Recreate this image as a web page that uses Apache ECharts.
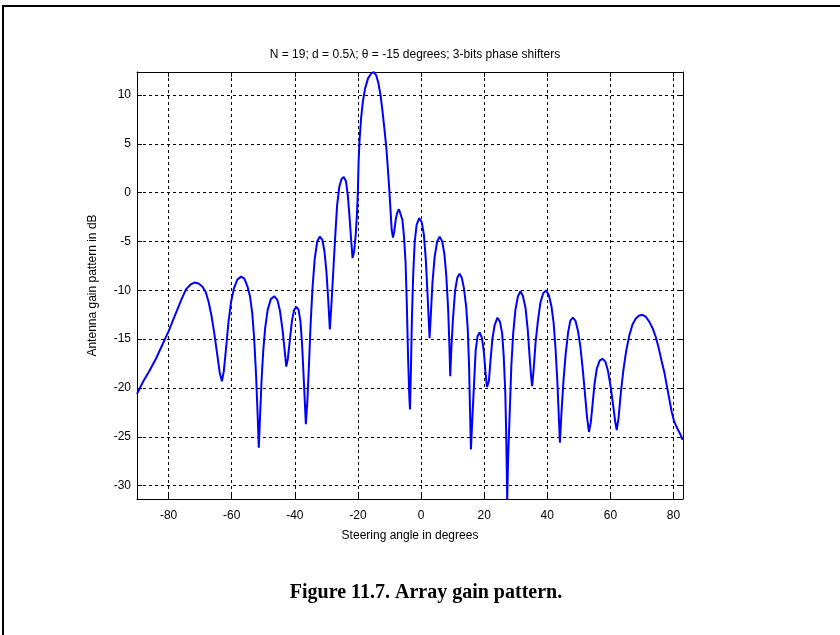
<!DOCTYPE html>
<html>
<head>
<meta charset="utf-8">
<script src="https://cdn.jsdelivr.net/npm/echarts@6/dist/echarts.min.js"></script>
<style>
html,body{margin:0;padding:0;background:#fff;}
#chart{width:840px;height:635px;}
</style>
</head>
<body>
<div id="chart"></div>
<script>
// Steering angle (degrees)
const angles = [
 -90,-88,-86,-84,-82,-80,-78,-76,-74.5,-73,
 -71.8,-70.5,-69.3,-68.2,-67.3,-66.4,-65.5,-64.6,-63.8,-63.1,
 -62.5,-61.8,-61.0,-60.2,-59.3,-58.2,-57.0,-56.0,-55.0,-54.2,
 -53.5,-52.9,-52.3,-51.8,-51.4,-51.0,-50.5,-50.0,-49.4,-48.6,
 -47.6,-46.5,-45.5,-44.7,-43.9,-43.2,-42.7,-42.2,-41.6,-40.9,
 -40.2,-39.5,-38.8,-38.2,-37.7,-37.1,-36.5,-36.0,-35.5,-35.0,
 -34.4,-33.7,-32.9,-32.1,-31.3,-30.6,-30.0,-29.4,-28.9,-28.4,
 -27.8,-27.2,-26.6,-25.9,-25.2,-24.5,-23.8,-23.2,-22.7,-22.2,
 -21.7,-21.2,-20.7,-20.3,-20.0,-19.8,-19.5,-19.0,-18.4,-17.7,
 -16.8,-15.8,-15.0,-14.2,-13.5,-12.8,-12.2,-11.6,-11.0,-10.5,
 -10.0,-9.6,-9.3,-8.9,-8.5,-8.0,-7.5,-7.0,-6.4,-5.9,
 -5.4,-4.9,-4.5,-4.1,-3.7,-3.5,-3.2,-2.9,-2.5,-2.0,
 -1.4,-0.6,0.2,0.9,1.5,2.0,2.4,2.7,3.1,3.6,
 4.3,5.1,5.9,6.7,7.4,8.0,8.6,9.0,9.25,9.6,
 10.1,10.8,11.5,12.2,12.9,13.6,14.3,14.8,15.2,15.5,
 15.8,16.2,16.8,17.3,17.9,18.6,19.3,19.9,20.4,20.9,
 21.5,22.0,22.6,23.3,24.2,25.0,25.7,26.2,26.7,27.0,
 27.3,27.6,28.1,28.6,29.2,29.9,30.7,31.5,32.3,33.1,
 33.8,34.4,34.9,35.2,35.7,36.3,37.0,37.8,38.7,39.6,
 40.5,41.3,42.0,42.6,43.2,43.6,44.0,44.5,45.1,45.8,
 46.6,47.3,48.1,48.9,49.7,50.5,51.3,52.0,52.6,53.2,
 53.8,54.4,55.0,55.7,56.6,57.5,58.4,59.2,60.0,60.8,
 61.5,62.0,62.6,63.3,64.1,65.0,66.0,67.0,68.0,69.0,
 70.1,71.2,72.3,73.4,74.4,75.3,76.2,77.1,77.9,78.7,
 79.4,80.1,80.7,81.3,82.1,82.9
];
// Antenna gain pattern (dB)
const gains = [
 -20.6,-19.3,-18.2,-17.0,-15.6,-14.2,-12.6,-11.0,-9.9,-9.4,
 -9.2,-9.3,-9.6,-10.2,-11.2,-12.6,-14.4,-16.5,-18.4,-19.3,
 -18.3,-16.0,-13.2,-11.2,-9.8,-8.9,-8.6,-8.8,-9.6,-10.6,
 -12.3,-14.8,-18.5,-22.5,-26.1,-22.8,-19.0,-16.2,-13.9,-12.0,
 -10.9,-10.6,-11.0,-12.1,-14.0,-16.2,-17.8,-17.0,-15.2,-13.1,
 -12.0,-11.7,-12.0,-13.2,-15.5,-19.5,-23.7,-21.2,-17.5,-13.5,
 -9.8,-6.8,-5.0,-4.5,-4.8,-6.0,-8.0,-11.0,-14.0,-11.5,
 -8.0,-4.5,-1.3,0.6,1.4,1.6,1.2,-0.3,-2.3,-4.6,
 -6.7,-6.0,-4.3,-2.2,0.3,3.0,5.3,7.6,9.4,10.7,
 11.7,12.2,12.35,12.0,11.2,9.9,8.3,6.5,4.6,2.4,
 0.0,-2.2,-3.8,-4.6,-4.0,-2.7,-2.0,-1.7,-1.9,-2.8,
 -4.5,-7.2,-11.5,-17.0,-21.0,-22.2,-18.0,-13.0,-8.5,-5.0,
 -3.3,-2.6,-3.0,-4.3,-6.8,-10.0,-12.8,-14.9,-12.5,-9.3,
 -6.6,-5.0,-4.5,-5.0,-6.3,-8.5,-12.0,-15.8,-18.8,-16.0,
 -13.0,-10.0,-8.7,-8.3,-8.7,-9.8,-11.7,-14.0,-17.5,-22.0,
 -26.3,-23.5,-19.5,-16.2,-14.7,-14.3,-14.9,-16.3,-18.3,-19.9,
 -19.3,-17.2,-15.0,-13.6,-12.8,-13.2,-14.4,-16.8,-20.5,-25.0,
 -31.4,-27.0,-22.5,-17.8,-14.4,-12.0,-10.6,-10.1,-10.6,-11.8,
 -14.0,-16.8,-18.9,-19.8,-18.0,-15.3,-13.2,-11.3,-10.3,-10.0,
 -10.5,-11.6,-13.3,-15.9,-19.4,-22.5,-25.6,-22.5,-19.4,-16.6,
 -14.3,-13.1,-12.8,-13.1,-14.1,-15.8,-18.3,-20.8,-23.0,-24.5,
 -23.5,-21.5,-19.5,-18.0,-17.2,-17.0,-17.3,-18.2,-19.7,-21.6,
 -23.4,-24.3,-23.0,-20.5,-18.2,-16.2,-14.6,-13.5,-12.9,-12.6,
 -12.5,-12.7,-13.2,-13.9,-14.8,-15.9,-17.2,-18.4,-19.8,-21.2,
 -22.4,-23.3,-23.8,-24.2,-24.7,-25.3
];
const xTicks = [-80,-60,-40,-20,0,20,40,60,80];
const yTicks = [-30,-25,-20,-15,-10,-5,0,5,10];

const titleText = 'N = 19; d = 0.5\u03bb; \u03b8 = -15 degrees; 3-bits phase shifters';
const xName = 'Steering angle in degrees';
const yName = 'Antenna gain pattern in dB';
const caption = 'Figure 11.7. Array gain pattern.';

const font = 'Liberation Sans, Arial, sans-serif';
const chart = echarts.init(document.getElementById('chart'), null, {renderer:'canvas'});

const dashed = {show:true, lineStyle:{color:'#000', type:[3,3], width:1}};
function xAx(pos, showLabels){
  return {
    type:'value', position:pos, min:-90, max:83,
    axisLine:{show:true, onZero:false, lineStyle:{color:'#000', width:1}},
    axisTick:{show:true, inside:true, length:5, customValues:xTicks, lineStyle:{color:'#000'}},
    axisLabel:{show:showLabels, customValues:xTicks, color:'#000', fontFamily:font, fontSize:12, margin:11},
    splitLine: showLabels ? Object.assign({}, dashed) : {show:false},
    name: showLabels ? xName : '', nameLocation:'middle', nameGap:31,
    nameTextStyle:{color:'#000', fontFamily:font, fontSize:12}
  };
}
function yAx(pos, showLabels){
  return {
    type:'value', position:pos, min:-31.36, max:12.35,
    axisLine:{show:true, onZero:false, lineStyle:{color:'#000', width:1}},
    axisTick:{show:true, inside:true, length:5, customValues:yTicks, lineStyle:{color:'#000'}},
    axisLabel:{show:showLabels, customValues:yTicks, color:'#000', fontFamily:font, fontSize:12, margin:6},
    splitLine: showLabels ? Object.assign({}, dashed) : {show:false},
    name: showLabels ? yName : '', nameLocation:'middle', nameGap:38, nameRotate:90,
    nameTextStyle:{color:'#000', fontFamily:font, fontSize:12}
  };
}

chart.setOption({
  animation:false,
  backgroundColor:'#fff',
  title:[
    {text:titleText, left:410, textAlign:'center', top:44,
     textStyle:{color:'#000', fontFamily:font, fontSize:12, fontWeight:'normal'}},
    {text:caption, left:421, textAlign:'center', top:578,
     textStyle:{color:'#000', fontFamily:'Liberation Serif, Times New Roman, serif', fontSize:20, fontWeight:'bold'}}
  ],
  grid:{left:137, top:72, width:546, height:427, show:false},
  xAxis:[xAx('bottom', true), xAx('top', false)],
  yAxis:[yAx('left', true), yAx('right', false)],
  graphic:[
    {type:'rect', shape:{x:2, y:5, width:838, height:2}, style:{fill:'#000'}},
    {type:'rect', shape:{x:2, y:5, width:2, height:630}, style:{fill:'#000'}}
  ],
  series:[{
    type:'line', xAxisIndex:0, yAxisIndex:0,
    data: angles.map((a,i)=>[a, gains[i]]),
    showSymbol:false, smooth:false, clip:true,
    lineStyle:{color:'#0000ff', width:2},
    itemStyle:{color:'#0000ff'}
  }]
});
</script>
</body>
</html>
